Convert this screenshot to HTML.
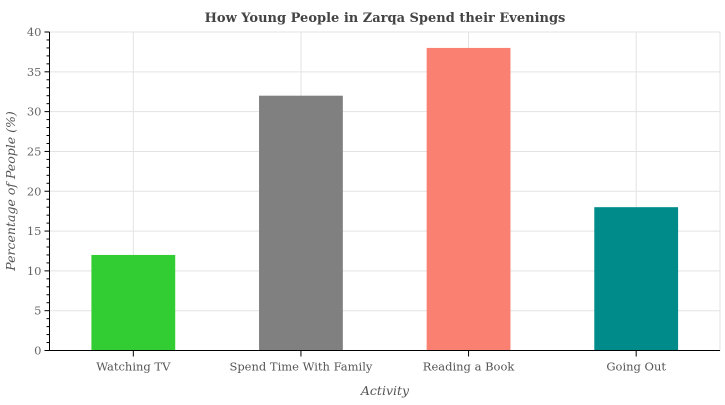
<!DOCTYPE html>
<html><head><meta charset="utf-8"><style>body{margin:0;background:#fff}svg text{font-family:"DejaVu Serif","Liberation Serif",serif}</style></head>
<body>
<svg id="c" width="725" height="400" xmlns="http://www.w3.org/2000/svg">
<text x="385" y="22" text-anchor="middle" font-size="13" font-weight="bold" fill="#444">How Young People in Zarqa Spend their Evenings</text>
<text transform="translate(15,191) rotate(-90)" text-anchor="middle" font-size="12.5" font-style="italic" fill="#555">Percentage of People (%)</text>
<text x="385" y="395" text-anchor="middle" font-size="12.5" font-style="italic" fill="#555">Activity</text>
<g id="g"></g>
</svg>
<script>
const categories=["Watching TV","Spend Time With Family","Reading a Book","Going Out"];
const values=[12,32,38,18];
const colors=["#32cd32","#808080","#fa8072","#008b8b"];
const yTicks=[0,5,10,15,20,25,30,35,40];
const L=49.5,R=720,T=32,B=350.5,ymax=40;
const band=(R-L)/categories.length;
const y=v=>B-(B-T)*v/ymax;
const x=i=>L+band*(i+0.5);
const g=document.getElementById('g');
const NS="http://www.w3.org/2000/svg";
function mk(t,a){const e=document.createElementNS(NS,t);for(const k in a)e.setAttribute(k,a[k]);g.appendChild(e);return e;}
yTicks.forEach(v=>{const l=mk('line',{x1:L,x2:R,y1:y(v),y2:y(v),stroke:'#e3e3e3'});


const t=mk('text',{x:L-8,y:y(v)+4,'text-anchor':'end','font-size':'11.5',fill:'#666'});t.textContent=v;


mk('line',{x1:L-5,x2:L,y1:y(v),y2:y(v),stroke:'#000'});});
for(let v=0;v<=ymax;v++){if(v%5)mk('line',{x1:L-3,x2:L,y1:y(v),y2:y(v),stroke:'#000'});}
mk('line',{x1:R,x2:R,y1:T,y2:B,stroke:'#e3e3e3'});
categories.forEach((c,i)=>{mk('line',{x1:x(i),x2:x(i),y1:T,y2:B,stroke:'#e3e3e3'});});
categories.forEach((c,i)=>{
const r=mk('rect',{x:x(i)-band/4,y:y(values[i]),width:band/2,height:B-y(values[i]),fill:colors[i]});


mk('line',{x1:x(i),x2:x(i),y1:B,y2:B+6,stroke:'#000'});
const t=mk('text',{x:x(i),y:B+20,'text-anchor':'middle','font-size':'11.5',fill:'#555'});t.textContent=c;


});
mk('line',{x1:L,x2:L,y1:T,y2:B,stroke:'#000'});
mk('line',{x1:L,x2:R,y1:B,y2:B,stroke:'#000'});
</script>
</body></html>
